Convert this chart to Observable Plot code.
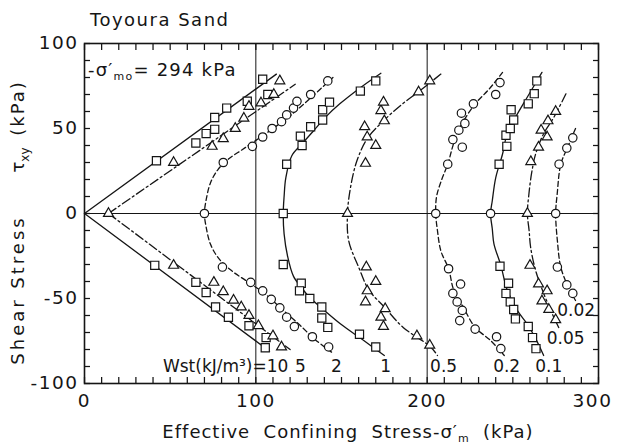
<!DOCTYPE html>
<html><head><meta charset="utf-8">
<script src="https://cdn.jsdelivr.net/npm/d3@7"></script>
<script src="https://cdn.jsdelivr.net/npm/@observablehq/plot@0.6"></script>
<style>body{margin:0;background:#fff} svg{display:block}</style>
</head><body><div id="chart"></div>
<script>
// ---- Data (x: -σ'm kPa, y: τxy kPa) ----
const xTicks = [0, 100, 200, 300];
const yTicks = [-100, -50, 0, 50, 100];
const minorX = d3.range(0, 301, 10);
const minorY = d3.range(-100, 101, 10);

const wstNames = ["10", "5", "2", "1", "0.5", "0.2", "0.1", "0.05", "0.02"];
const wstShapes = ["square", "triangle", "circle", "square", "triangle", "circle", "square", "triangle", "circle"];
const wstStyles = ["solid", "dashdot", "dashed", "solid", "dashdot", "dashed", "solid", "dashdot", "dashed"];

// measured points
const pts10 = [[42,31],[65,41.5],[71,47],[76,49.5],[76,56.5],[83,62],[95,66],[104,79],[107,70],
  [41,-30.5],[65,-40.5],[71,-46.5],[76.5,-55],[84,-61],[96,-66],[106,-73],[105.5,-79]];
const pts5 = [[14,0],[52,30],[74.5,39.5],[81,44],[88,50],[93,56],[96,63],[103,65],[110.5,70],[114,78],
  [52,-30.5],[75.5,-40.5],[81,-46],[87,-51],[91.5,-55],[96,-60],[101.5,-66],[110,-72],[115,-78.5]];
const pts2 = [[70,0],[81,30],[98,39.5],[104,45],[109.5,50],[115,54],[118,58],[122,62],[124,66],[132,70],[142,78],
  [80.5,-31.5],[97,-40.5],[104,-45.5],[109,-50.5],[114,-55.5],[118,-61],[122.5,-66.5],[133,-72.5],[142.5,-78.5]];
const pts1 = [[116,0],[118,29],[127,40],[126,45.5],[132,51],[139,55],[139,61],[143,65.5],[161,72],[170,78],
  [116,-30],[126.5,-41],[125.5,-45.5],[131.5,-50],[138.5,-55],[138.5,-61.5],[142,-67],[160.5,-71],[170,-78.5]];
const pts05 = [[153.5,0],[164,29.5],[170,40],[165,45],[163.5,51],[175,54.5],[173,60.5],[174.5,65.5],[195,71.5],[201.5,78],
  [164.5,-31.5],[170,-40],[165,-45.5],[164,-52],[175.5,-56],[173,-61],[174.5,-66.5],[194,-72],[201.5,-77.5]];
const pts02 = [[205,0],[212,29],[220.5,39],[215,43.5],[218.5,49],[222,53],[220,59],[227,64.5],[240,70],[242.5,77],
  [212.5,-32.5],[219.5,-41.5],[215,-47],[217.5,-52],[220.5,-57],[219,-63],[228,-68],[240.5,-72.5],[243,-79.5]];
const pts01 = [[242,29],[246.5,39.5],[246,46],[248.5,50],[250.5,55],[249,61],[259,64.5],[262.5,70.5],[264,78],
  [242.5,-31],[247.5,-41],[246,-47],[248.5,-52],[250.5,-56.5],[251.5,-62],[259,-66.5],[261.5,-73],[263.5,-79.5]];
const pts005 = [[258.5,0],[260.5,30.5],[265,39],[270,45],[266.5,49],[270.5,54.5],[275,60],
  [260,-30.5],[265,-41.5],[270,-45.5],[267,-51.5],[271,-56.5],[275,-62.5]];
const pts002 = [[275,0],[277,29],[281.5,38.5],[285,44.5],[276,-31.5],[281.5,-42],[285,-47]];
const pts01Intercept = [[237,0]]; // drawn as a circle in the figure

// traced fitted curves (each branch listed separately)
const curve10 = [[[0,0],[112,82]], [[0,0],[108,-81]]];
const curve5 = [[[14,0],[123,76]], [[14,0],[120,-80]]];
const curve2 = [[[145,80],[132,68],[120,57.5],[110,50],[100,43],[92,37.5],[84,32],[78,26],[73.5,18],[71,8],[70,0],
  [71,-8],[73.5,-18],[78,-26],[85,-33],[95,-40],[105,-47],[115,-56],[125,-65],[135,-74.5],[145.5,-82.5]]];
const curve1 = [[[173,82.5],[161,74],[149,64.5],[141,57],[134,49],[127,41],[121,34],[117.5,21],[116.5,10],[116,0],
  [116.5,-12],[118.5,-25],[122,-37],[127,-44],[131,-49],[140,-57],[149.5,-65],[162,-74],[175,-83.5]]];
const curve05 = [[[208,82],[196,72.4],[185,64],[174.7,54.7],[165,44],[159,31],[155.3,15.5],[153.5,0],
  [154.2,-16],[160,-31.5],[166,-45],[175,-55],[186,-67],[202,-78.5],[206,-83.5]]];
const curve02 = [[[244,83],[236,73],[228,64.5],[221,54],[217,46],[214.5,38],[212,29],[208.5,20],[205.5,10],[205,0],
  [206,-10],[208,-22],[212.5,-32.5],[215.5,-45],[221,-55],[228,-67],[237,-74.7],[245,-83.5]]];
const curve01 = [[[267,83],[258.4,68.4],[251.6,56.7],[246.7,47],[244,35],[240,21],[238,7.5],[237,0],
  [238,-9],[239,-18],[243,-30.5],[246.7,-45],[252.6,-57],[258.4,-65],[263,-73],[268,-83.5]]];
const curve005 = [[[281,70.4],[274,56.7],[268,47],[263.3,35],[261,24],[259.4,11.6],[258.5,0],
  [259.5,-10],[260.4,-20],[263.3,-33.5],[268,-47],[273,-59],[277,-67.6]]];
const curve002 = [[[286.6,50],[282,39],[278,29],[275.9,11.6],[275,0],[276,-16],[278,-31.6],[282,-42.4],[286.6,-51.2]]];

// Wst labels
const labelTexts = ["Wst(kJ/m³)=10", "5", "2", "1", "0.5", "0.2", "0.1", "0.05", "0.02"];
const labelX = [119, 126, 147, 175.7, 209.6, 246.4, 271, 280.8, 287];
const labelY = [-90, -90, -90, -90, -90, -90, -90, -73.5, -57];
const labelAnchor = ["end", "middle", "middle", "middle", "middle", "middle", "middle", "middle", "middle"];

// ---- build tables ----
const allPts = [pts10, pts5, pts2, pts1, pts05, pts02, pts01, pts005, pts002];
const allCurves = [curve10, curve5, curve2, curve1, curve05, curve02, curve01, curve005, curve002];
const points = [];
allPts.forEach((arr, i) => arr.forEach(([x, y]) => points.push({wst: wstNames[i], shape: wstShapes[i], x, y})));
pts01Intercept.forEach(([x, y]) => points.push({wst: "0.1", shape: "circle", x, y}));
const curves = [];
allCurves.forEach((branches, i) => branches.forEach((b, j) =>
  b.forEach(([x, y]) => curves.push({id: wstNames[i] + "-" + j, style: wstStyles[i], x, y}))));
const labels = labelTexts.map((t, i) => ({text: t, x: labelX[i], y: labelY[i], anchor: labelAnchor[i]}));

const ink = "#151515";
const dash = {solid: null, dashed: "5,3", dashdot: "9,3,2,3"};
const lineMarks = Object.keys(dash).map(st =>
  Plot.line(curves.filter(d => d.style === st), {x: "x", y: "y", z: "id", curve: "catmull-rom",
    stroke: ink, strokeWidth: 1.3, strokeDasharray: dash[st]}));
const dotR = {square: 4.6, circle: 4.2, triangle: 3.7};
const dotMarks = ["square", "circle", "triangle"].map(sh =>
  Plot.dot(points.filter(d => d.shape === sh), {x: "x", y: "y", symbol: sh, r: dotR[sh],
    fill: "white", stroke: ink, strokeWidth: 1.2}));

const noLabel = () => "";
const tickOpts = {tickSize: -6, tickFormat: noLabel, label: null, stroke: ink, strokeWidth: 1.25};
const plot = Plot.plot({
  width: 618, height: 446,
  marginLeft: 84, marginRight: 20, marginTop: 43, marginBottom: 63,
  x: {domain: [0, 300]},
  y: {domain: [-100, 100]},
  style: {fontFamily: "DejaVu Sans", fontSize: "18px", color: ink, background: "#fff"},
  marks: [
    Plot.ruleX([100, 200], {stroke: ink, strokeWidth: 1}),
    Plot.ruleY([0], {stroke: ink, strokeWidth: 1.2}),
    // inward minor ticks on all four sides
    Plot.axisX({anchor: "bottom", ticks: minorX, ...tickOpts}),
    Plot.axisX({anchor: "top", ticks: minorX, ...tickOpts}),
    Plot.axisY({anchor: "left", ticks: minorY, ...tickOpts}),
    Plot.axisY({anchor: "right", ticks: minorY, ...tickOpts}),
    Plot.frame({stroke: ink, strokeWidth: 1.6}),
    Plot.axisX({ticks: xTicks, tickSize: 0, tickPadding: 10, label: null, tickFormat: d => String(d)}),
    Plot.axisY({ticks: yTicks, tickSize: 0, tickPadding: 6, label: null, tickFormat: d => String(d)}),
    ...lineMarks,
    ...dotMarks,
    Plot.text(labels, {x: "x", y: "y", text: "text", textAnchor: "end", fontSize: 17, filter: d => d.anchor === "end"}),
    Plot.text(labels, {x: "x", y: "y", text: "text", textAnchor: "middle", fontSize: 17, filter: d => d.anchor === "middle"})
  ]
});

const s = d3.select(plot);
s.selectAll("g[aria-label='y-axis tick label'] text, g[aria-label='x-axis tick label'] text")
  .attr("letter-spacing", 1.5).attr("font-size", 18.5);
// keep the last x tick label ("300") inside the picture
s.selectAll("g[aria-label='x-axis tick label'] text").filter(function() { return this.textContent === "300"; })
  .attr("dx", -6);
const xs = plot.scale("x");

// title
s.append("text").attr("x", 90).attr("y", 26).attr("text-anchor", "start").attr("font-size", 18).attr("letter-spacing", 1.5)
  .attr("fill", ink).text("Toyoura Sand");

// initial mean stress annotation
const ann = s.append("text").attr("x", xs.apply(0) + 4).attr("y", 76).attr("text-anchor", "start")
  .attr("font-size", 18).attr("fill", ink).attr("letter-spacing", 1.2);
ann.append("tspan").text("-σ′");
ann.append("tspan").attr("font-size", 11).attr("dy", 4).text("mo");
ann.append("tspan").attr("dy", -4).text("= 294 kPa");

// x axis label
const xl = s.append("text").attr("x", 348).attr("y", 438).attr("text-anchor", "middle").attr("font-size", 18)
  .attr("letter-spacing", 1).attr("fill", ink);
xl.append("tspan").text("Effective  Confining  Stress-σ′");
xl.append("tspan").attr("font-size", 11).attr("dy", 4).text("m");
xl.append("tspan").attr("dy", -4).text("  (kPa)");

// y axis label (rotated)
s.append("text").attr("transform", "translate(24,290) rotate(-90)").attr("text-anchor", "middle")
  .attr("font-size", 18).attr("letter-spacing", 3).attr("fill", ink).text("Shear Stress");
const yl2 = s.append("text").attr("transform", "translate(24,160) rotate(-90)").attr("text-anchor", "middle")
  .attr("font-size", 18).attr("fill", ink);
yl2.append("tspan").text("τ");
yl2.append("tspan").attr("font-size", 12).attr("dy", 5).text("xy");
s.append("text").attr("transform", "translate(24,108) rotate(-90)").attr("text-anchor", "middle")
  .attr("font-size", 18).attr("letter-spacing", 2).attr("fill", ink).text("(kPa)");

document.getElementById("chart").append(plot);
</script>
</body></html>
